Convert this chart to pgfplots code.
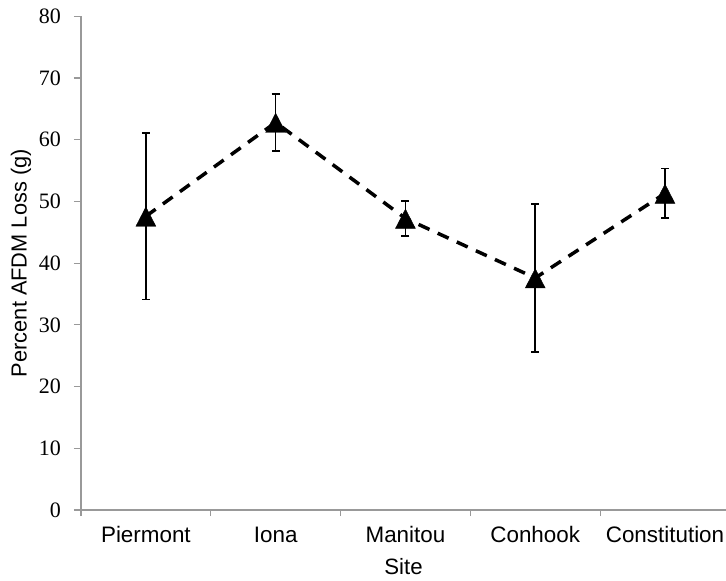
\documentclass[border=0pt]{standalone}
\usepackage{fontspec}
\setmainfont{Liberation Sans}
\newfontfamily\timesf{Liberation Serif}
\usepackage{pgfplots}
\pgfplotsset{compat=1.18}
\begin{document}
\begin{tikzpicture}
\begin{axis}[
  scale only axis, width=645pt, height=493.7pt,
  xmin=-0.5, xmax=4.47, ymin=0, ymax=80,
  axis x line*=bottom, axis y line*=left,
  axis line style={draw=black!40, line width=1.5pt},
  xtick={0,1,2,3,4},
  xticklabels={Piermont,Iona,Manitou,Conhook,Constitution},
  minor xtick={-0.5,0.5,1.5,2.5,3.5},
  ytick={0,10,20,30,40,50,60,70,80},
  yticklabels={0,10,20,30,40,50,60,70,80},
  tick align=outside,
  major tick length=7pt, minor tick length=6pt,
  tick style={draw=black!40, line width=1.2pt},
  major x tick style={draw=none},
  minor x tick style={draw=black!40, line width=1.2pt},
  xticklabel style={font=\fontsize{22.4}{26}\selectfont, anchor=base, inner sep=0pt, yshift=-26pt},
  yticklabel style={font=\fontsize{22}{26}\selectfont\timesf, anchor=east, inner sep=0pt, xshift=-13pt},
  xlabel={Site}, ylabel={Percent AFDM Loss (g)},
  every axis x label/.style={at={(axis description cs:0.5,-0.1155)}, anchor=center, font=\fontsize{22.2}{26}\selectfont},
  every axis y label/.style={at={(axis description cs:-0.093,0.5)}, rotate=90, anchor=center, font=\fontsize{21.8}{26}\selectfont},
  clip=false,
]
\coordinate (O) at (rel axis cs:0,0);
\addplot[black, line width=3.5pt, dash pattern=on 12pt off 9pt,
  mark=triangle*, mark size=11.5pt,
  mark options={solid, fill=black, draw=black, line width=0.4pt, yscale=1.12, yshift=-3.2pt},
  error bars/.cd, y dir=both, y explicit,
  error bar style={solid, line width=1.5pt, black},
  error mark options={solid, line width=1.5pt, mark size=4pt, rotate=90}]
coordinates {
(0,47.6) +- (0,13.5)
(1,62.8) +- (0,4.6)
(2,47.25) +- (0,2.85)
(3,37.6) +- (0,12.0)
(4,51.3) +- (0,4.0)
};
\end{axis}
\pgfresetboundingbox
\path[use as bounding box] ([xshift=-81pt,yshift=-71pt]O) rectangle ++(726pt,581pt);
\end{tikzpicture}
\end{document}
